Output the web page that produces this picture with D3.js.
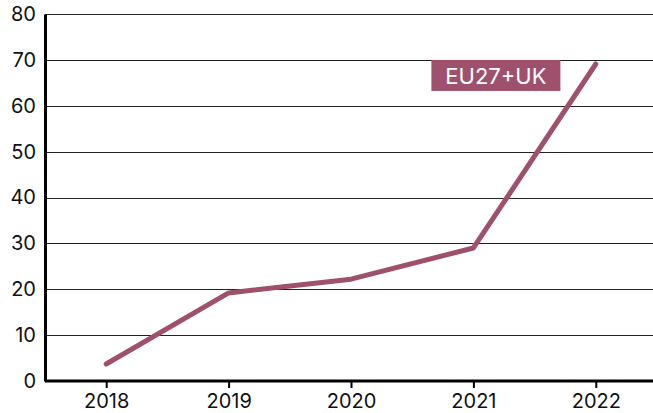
<!DOCTYPE html>
<html>
<head>
<meta charset="utf-8">
<script src="https://cdn.jsdelivr.net/npm/d3@7"></script>
<style>
  body { margin: 0; background: #fff; }
  text { font-family: Inter, "Noto Sans", sans-serif; }
</style>
</head>
<body>
<div class="chart-holder"></div>
<script>
let years = ['2018', '2019', '2020', '2021', '2022']
let values = [3.7, 19.2, 22.2, 29.0, 69.1]
let yTicks = [0, 10, 20, 30, 40, 50, 60, 70, 80]
let seriesName = 'EU27+UK'

let width = 653
let height = 413
let margin = { top: 14, bottom: 32, left: 45, right: 0 }
let lineColor = '#9f506c'

let svg = d3.select('.chart-holder')
    .append('svg')
        .attr('width', width)
        .attr('height', height)

let x = d3.scalePoint()
    .domain(years)
    .range([margin.left, 657])
    .padding(0.5)

let y = d3.scaleLinear()
    .domain([0, 80])
    .range([height - margin.bottom, margin.top])

// gridlines
svg.append('g').attr('class', 'grid')
    .selectAll('line')
    .data(yTicks.filter(d => d > 0))
    .enter()
    .append('line')
        .attr('x1', margin.left).attr('x2', width)
        .attr('y1', d => Math.round(y(d)) + 0.5).attr('y2', d => Math.round(y(d)) + 0.5)
        .attr('stroke', '#222').attr('stroke-width', 1.2)

// y axis
let yAxis = svg.append('g')
    .attr('transform', 'translate(' + margin.left + ',0)')
    .call(d3.axisLeft(y).tickValues(yTicks).tickSize(0).tickPadding(9))
yAxis.select('.domain').attr('stroke', '#000').attr('stroke-width', 3)
yAxis.selectAll('text').attr('font-size', 20).attr('fill', '#111')

// x axis
let xAxis = svg.append('g')
    .attr('transform', 'translate(0,' + y(0) + ')')
    .call(d3.axisBottom(x).tickSize(7).tickPadding(6).tickSizeOuter(0))
xAxis.select('.domain').attr('stroke', '#000').attr('stroke-width', 3)
    .attr('d', 'M' + margin.left + ',0H' + width)
xAxis.selectAll('.tick line').attr('stroke', '#000').attr('stroke-width', 2)
xAxis.selectAll('text').attr('font-size', 20).attr('fill', '#111')

// series line
let line = d3.line()
    .x((d, i) => x(years[i]))
    .y(d => y(d))

svg.append('path')
    .datum(values)
    .attr('d', line)
    .attr('fill', 'none')
    .attr('stroke', lineColor)
    .attr('stroke-width', 5)
    .attr('stroke-linecap', 'round')
    .attr('stroke-linejoin', 'round')

// series label
let label = svg.append('g')
    .attr('transform', 'translate(' + x('2021') + ',' + y(66.5) + ')')
label.append('rect')
    .attr('x', -42).attr('y', -16)
    .attr('width', 129).attr('height', 31)
    .attr('fill', lineColor)
label.append('text')
    .attr('x', 22.5).attr('y', 0)
    .attr('dy', '0.35em')
    .attr('text-anchor', 'middle')
    .attr('font-size', 22)
    .attr('fill', '#fff')
    .text(seriesName)
</script>
</body>
</html>
